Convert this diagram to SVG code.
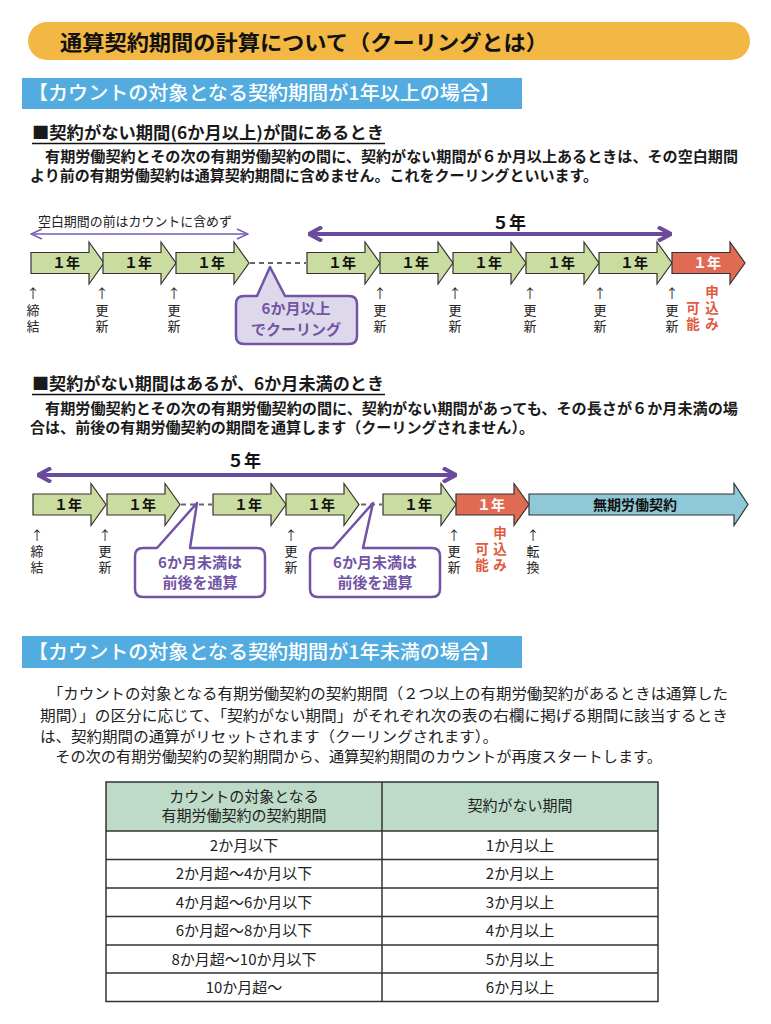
<svg xmlns="http://www.w3.org/2000/svg" xmlns:xlink="http://www.w3.org/1999/xlink" width="771" height="1024" viewBox="0 0 771 1024">
<style>
text{font-family:"Noto Sans CJK JP","Noto Sans",sans-serif;fill:#1a1a1a}
.title{font-size:21px;font-weight:bold;fill:#111}
.banner{font-size:19px;fill:#fff;font-weight:500}
.h{font-size:16.5px;font-weight:bold}
.p{font-size:15px;font-weight:bold}
.p3{font-size:15px;fill:#222}
.yr{font-size:14px;font-weight:bold;text-anchor:middle;fill:#111}
.yrw{font-size:14px;font-weight:bold;text-anchor:middle;fill:#fff}
.tick{font-size:13px;text-anchor:middle;fill:#222}
.red{font-size:13.5px;font-weight:bold;text-anchor:middle;fill:#E05A40}
.five{font-size:17px;font-weight:bold;text-anchor:middle;fill:#111}
.cap{font-size:13px;fill:#222}
.ct{font-size:15px;font-weight:bold;text-anchor:middle;fill:#7253A5}
.td{font-size:15px;text-anchor:middle;fill:#222}
.green{fill:#CADC9F;stroke:#333;stroke-width:1.2}
.redf{fill:#E06B52;stroke:#333;stroke-width:1.2}
.bluef{fill:#8FC9D7;stroke:#333;stroke-width:1.2}
.dash{stroke:#666;stroke-width:2;stroke-dasharray:5 4;fill:none}
.span{stroke:#6A4A9C;stroke-width:4;fill:none}
.thin{stroke:#7A5CB0;stroke-width:1.5;fill:none}
.callout{stroke:#7253A5;stroke-width:2.5;stroke-linejoin:round}
.grid{stroke:#333;stroke-width:1.5;fill:none}
</style>
<defs>
<path id="yr" d="M0,-10.5 H58 V-21 L73,0 L58,21 V10.5 H0 Z"/>
<marker id="chev" viewBox="0 0 16 16" refX="15" refY="8" markerWidth="16" markerHeight="16" markerUnits="userSpaceOnUse" orient="auto-start-reverse">
<path d="M2,1 L15,8 L2,15" fill="none" stroke="#6A4A9C" stroke-width="4" stroke-linejoin="miter"/>
</marker>
<marker id="chevt" viewBox="0 0 14 14" refX="13" refY="7" markerWidth="14" markerHeight="14" markerUnits="userSpaceOnUse" orient="auto-start-reverse">
<path d="M2,2 L13,7 L2,12" fill="none" stroke="#7A5CB0" stroke-width="1.5"/>
</marker>
</defs>
<rect width="771" height="1024" fill="#fff"/>

<g id="title">
<rect x="28" y="22" width="722" height="38" rx="19" fill="#F2B843"/>
<text class="title" x="60" y="50" textLength="488" lengthAdjust="spacingAndGlyphs">通算契約期間の計算について（クーリングとは）</text>
</g>

<g id="banner1">
<rect x="22" y="78" width="500" height="31" fill="#52ACE0"/>
<text class="banner" x="28" y="100" textLength="472" lengthAdjust="spacingAndGlyphs">【カウントの対象となる契約期間が1年以上の場合】</text>
</g>

<g id="sec1-text">
<text class="h" x="32" y="139" textLength="352" lengthAdjust="spacingAndGlyphs">■契約がない期間(6か月以上)が間にあるとき</text>
<line x1="32" y1="143.5" x2="385" y2="143.5" stroke="#111" stroke-width="1.5"/>
<text class="p" x="30" y="162" textLength="708" lengthAdjust="spacingAndGlyphs">　有期労働契約とその次の有期労働契約の間に、契約がない期間が６か月以上あるときは、その空白期間</text>
<text class="p" x="30" y="181" textLength="568" lengthAdjust="spacingAndGlyphs">より前の有期労働契約は通算契約期間に含めません。これをクーリングといいます。</text>
</g>

<g id="connectors">
<line class="thin" x1="31" y1="234" x2="248" y2="234" marker-start="url(#chevt)" marker-end="url(#chevt)"/>
<line class="span" x1="309" y1="234" x2="671" y2="234" marker-start="url(#chev)" marker-end="url(#chev)"/>
<line class="dash" x1="250" y1="263" x2="306" y2="263"/>
<line class="span" x1="38" y1="475" x2="456" y2="475" marker-start="url(#chev)" marker-end="url(#chev)"/>
<line class="dash" x1="181" y1="504.5" x2="212" y2="504.5"/>
<line class="dash" x1="361" y1="504.5" x2="382" y2="504.5"/>
</g>

<g id="s1-labels">
<text class="cap" x="38" y="226" textLength="194" lengthAdjust="spacingAndGlyphs">空白期間の前はカウントに含めず</text>
<text class="five" x="509" y="229">５年</text>
</g>

<g id="s1-y1"><use xlink:href="#yr" class="green" transform="translate(31,263)"/><text class="yr" x="66" y="268">１年</text></g>
<g id="s1-y2"><use xlink:href="#yr" class="green" transform="translate(103,263)"/><text class="yr" x="138" y="268">１年</text></g>
<g id="s1-y3"><use xlink:href="#yr" class="green" transform="translate(176,263)"/><text class="yr" x="211" y="268">１年</text></g>
<g id="s1-y4"><use xlink:href="#yr" class="green" transform="translate(307,263)"/><text class="yr" x="342" y="268">１年</text></g>
<g id="s1-y5"><use xlink:href="#yr" class="green" transform="translate(380,263)"/><text class="yr" x="415" y="268">１年</text></g>
<g id="s1-y6"><use xlink:href="#yr" class="green" transform="translate(453,263)"/><text class="yr" x="488" y="268">１年</text></g>
<g id="s1-y7"><use xlink:href="#yr" class="green" transform="translate(526,263)"/><text class="yr" x="561" y="268">１年</text></g>
<g id="s1-y8"><use xlink:href="#yr" class="green" transform="translate(599,263)"/><text class="yr" x="634" y="268">１年</text></g>
<g id="s1-y9"><use xlink:href="#yr" class="redf" transform="translate(672,263)"/><text class="yrw" x="707" y="268">１年</text></g>

<g id="s1-ticks">
<text class="tick"><tspan x="33" y="298">↑</tspan><tspan x="33" y="315">締</tspan><tspan x="33" y="331">結</tspan></text>
<text class="tick"><tspan x="102" y="298">↑</tspan><tspan x="102" y="315">更</tspan><tspan x="102" y="331">新</tspan></text>
<text class="tick"><tspan x="174" y="298">↑</tspan><tspan x="174" y="315">更</tspan><tspan x="174" y="331">新</tspan></text>
<text class="tick"><tspan x="380" y="298">↑</tspan><tspan x="380" y="315">更</tspan><tspan x="380" y="331">新</tspan></text>
<text class="tick"><tspan x="455" y="298">↑</tspan><tspan x="455" y="315">更</tspan><tspan x="455" y="331">新</tspan></text>
<text class="tick"><tspan x="530" y="298">↑</tspan><tspan x="530" y="315">更</tspan><tspan x="530" y="331">新</tspan></text>
<text class="tick"><tspan x="600" y="298">↑</tspan><tspan x="600" y="315">更</tspan><tspan x="600" y="331">新</tspan></text>
<text class="tick"><tspan x="672" y="298">↑</tspan><tspan x="672" y="315">更</tspan><tspan x="672" y="331">新</tspan></text>
<text class="red"><tspan x="712" y="297">申</tspan><tspan x="712" y="313">込</tspan><tspan x="712" y="329">み</tspan></text>
<text class="red"><tspan x="693" y="313">可</tspan><tspan x="693" y="329">能</tspan></text>
</g>

<g id="s1-callout">
<path class="callout" fill="#DDD8EA" d="M244,296 H257 L270,267 L285,296 H349 Q357,296 357,304 V336 Q357,344 349,344 H244 Q236,344 236,336 V304 Q236,296 244,296 Z"/>
<text class="ct" x="296" y="314">6か月以上</text>
<text class="ct" x="296" y="335">でクーリング</text>
</g>

<g id="sec2-text">
<text class="h" x="32" y="390" textLength="352" lengthAdjust="spacingAndGlyphs">■契約がない期間はあるが、6か月未満のとき</text>
<line x1="32" y1="394.5" x2="385" y2="394.5" stroke="#111" stroke-width="1.5"/>
<text class="p" x="30" y="414" textLength="708" lengthAdjust="spacingAndGlyphs">　有期労働契約とその次の有期労働契約の間に、契約がない期間があっても、その長さが６か月未満の場</text>
<text class="p" x="30" y="433" textLength="504" lengthAdjust="spacingAndGlyphs">合は、前後の有期労働契約の期間を通算します（クーリングされません）。</text>
</g>

<g id="s2-labels"><text class="five" x="244" y="467">５年</text></g>

<g id="s2-y1"><use xlink:href="#yr" class="green" transform="translate(33,504.5)"/><text class="yr" x="68" y="509.5">１年</text></g>
<g id="s2-y2"><use xlink:href="#yr" class="green" transform="translate(107,504.5)"/><text class="yr" x="142" y="509.5">１年</text></g>
<g id="s2-y3"><use xlink:href="#yr" class="green" transform="translate(213,504.5)"/><text class="yr" x="248" y="509.5">１年</text></g>
<g id="s2-y4"><use xlink:href="#yr" class="green" transform="translate(286,504.5)"/><text class="yr" x="321" y="509.5">１年</text></g>
<g id="s2-y5"><use xlink:href="#yr" class="green" transform="translate(383,504.5)"/><text class="yr" x="418" y="509.5">１年</text></g>
<g id="s2-y6"><use xlink:href="#yr" class="redf" transform="translate(456,504.5)"/><text class="yrw" x="491" y="509.5">１年</text></g>
<g id="s2-perm"><path class="bluef" d="M529,494 H734 V483.5 L748,504.5 L734,525.5 V515 H529 Z"/><text class="yr" x="635" y="509.5">無期労働契約</text></g>

<g id="s2-ticks">
<text class="tick"><tspan x="37" y="540">↑</tspan><tspan x="37" y="556">締</tspan><tspan x="37" y="572">結</tspan></text>
<text class="tick"><tspan x="105" y="540">↑</tspan><tspan x="105" y="556">更</tspan><tspan x="105" y="572">新</tspan></text>
<text class="tick"><tspan x="291" y="540">↑</tspan><tspan x="291" y="556">更</tspan><tspan x="291" y="572">新</tspan></text>
<text class="tick"><tspan x="454" y="540">↑</tspan><tspan x="454" y="556">更</tspan><tspan x="454" y="572">新</tspan></text>
<text class="red"><tspan x="500" y="538">申</tspan><tspan x="500" y="554">込</tspan><tspan x="500" y="570">み</tspan></text>
<text class="red"><tspan x="482" y="554">可</tspan><tspan x="482" y="570">能</tspan></text>
<text class="tick"><tspan x="533" y="540">↑</tspan><tspan x="533" y="556">転</tspan><tspan x="533" y="572">換</tspan></text>
</g>

<g id="s2-callout1">
<path class="callout" fill="#fff" d="M143,548 H157 L197,503 L190,548 H257 Q265,548 265,556 V589 Q265,597 257,597 H143 Q135,597 135,589 V556 Q135,548 143,548 Z"/>
<text class="ct" x="200" y="568">6か月未満は</text>
<text class="ct" x="200" y="588">前後を通算</text>
</g>
<g id="s2-callout2">
<path class="callout" fill="#fff" d="M318,548 H333 L373,503 L363,548 H432 Q440,548 440,556 V589 Q440,597 432,597 H318 Q310,597 310,589 V556 Q310,548 318,548 Z"/>
<text class="ct" x="375" y="568">6か月未満は</text>
<text class="ct" x="375" y="588">前後を通算</text>
</g>

<g id="banner2">
<rect x="22" y="636" width="500" height="32" fill="#52ACE0"/>
<text class="banner" x="28" y="659" textLength="472" lengthAdjust="spacingAndGlyphs">【カウントの対象となる契約期間が1年未満の場合】</text>
</g>

<g id="sec3-text">
<text class="p3" x="40" y="699" textLength="688" lengthAdjust="spacingAndGlyphs">　「カウントの対象となる有期労働契約の契約期間（２つ以上の有期労働契約があるときは通算した</text>
<text class="p3" x="40" y="721" textLength="688" lengthAdjust="spacingAndGlyphs">期間）」の区分に応じて、「契約がない期間」がそれぞれ次の表の右欄に掲げる期間に該当するとき</text>
<text class="p3" x="40" y="742" textLength="458" lengthAdjust="spacingAndGlyphs">は、契約期間の通算がリセットされます（クーリングされます）。</text>
<text class="p3" x="40" y="762" textLength="622" lengthAdjust="spacingAndGlyphs">　その次の有期労働契約の契約期間から、通算契約期間のカウントが再度スタートします。</text>
</g>

<g id="table">
<rect x="106" y="782" width="552" height="49" fill="#BDDBC8"/>
<rect class="grid" x="106" y="782" width="552" height="219.5"/>
<line class="grid" x1="382" y1="782" x2="382" y2="1001.5"/>
<line class="grid" x1="106" y1="831" x2="658" y2="831"/>
<line class="grid" x1="106" y1="859.5" x2="658" y2="859.5"/>
<line class="grid" x1="106" y1="888" x2="658" y2="888"/>
<line class="grid" x1="106" y1="916.5" x2="658" y2="916.5"/>
<line class="grid" x1="106" y1="945" x2="658" y2="945"/>
<line class="grid" x1="106" y1="973" x2="658" y2="973"/>
<text class="td" x="244" y="802">カウントの対象となる</text>
<text class="td" x="244" y="821">有期労働契約の契約期間</text>
<text class="td" x="520" y="811">契約がない期間</text>
<text class="td" x="244" y="850.5">2か月以下</text><text class="td" x="520" y="850.5">1か月以上</text>
<text class="td" x="244" y="879">2か月超～4か月以下</text><text class="td" x="520" y="879">2か月以上</text>
<text class="td" x="244" y="907.5">4か月超～6か月以下</text><text class="td" x="520" y="907.5">3か月以上</text>
<text class="td" x="244" y="936">6か月超～8か月以下</text><text class="td" x="520" y="936">4か月以上</text>
<text class="td" x="244" y="964.5">8か月超～10か月以下</text><text class="td" x="520" y="964.5">5か月以上</text>
<text class="td" x="244" y="992.5">10か月超～</text><text class="td" x="520" y="992.5">6か月以上</text>
</g>
</svg>
